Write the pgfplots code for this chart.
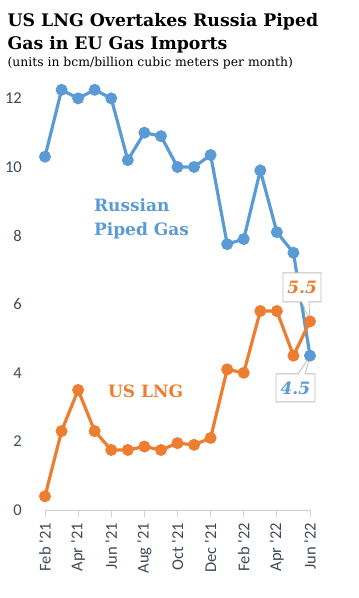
\documentclass[border=0pt]{standalone}
\usepackage{pgfplots}
\pgfplotsset{compat=1.18}
\usepackage{pgfplotstable}
\usepackage{fontspec}
\setmainfont{DejaVu Serif}
\newfontfamily\tickfont{Carlito}
\usetikzlibrary{shapes.callouts}
\definecolor{rblue}{HTML}{5B9BD5}
\definecolor{lorange}{HTML}{ED7D31}
\definecolor{tickgray}{HTML}{404A56}
\definecolor{axgray}{HTML}{D0D0D0}
\definecolor{boxgray}{HTML}{BFBFBF}

\pgfplotstableread{
x y
0 10.3
1 12.25
2 12.0
3 12.25
4 12.0
5 10.2
6 11.0
7 10.9
8 10.0
9 10.0
10 10.35
11 7.75
12 7.9
13 9.9
14 8.1
15 7.5
16 4.5
}\russia
\pgfplotstableread{
x y
0 0.4
1 2.3
2 3.5
3 2.3
4 1.75
5 1.75
6 1.85
7 1.75
8 1.95
9 1.9
10 2.1
11 4.1
12 4.0
13 5.8
14 5.8
15 4.5
16 5.5
}\uslng

\begin{document}
\begin{tikzpicture}
\useasboundingbox (-45pt,-88pt) rectangle (314pt,510pt);
\begin{axis}[
  at={(0,0)}, anchor=south west,
  scale only axis, width=265pt, height=428.75pt,
  xmin=0, xmax=16, ymin=0, ymax=12.5,
  clip=false,
  axis x line*=bottom, axis y line*=left,
  x axis line style={draw=axgray, line width=0.8pt},
  y axis line style={draw=none},
  xtick={0,2,...,16},
  xticklabels={Feb '21, Apr '21, Jun '21, Aug '21, Oct '21, Dec '21, Feb '22, Apr '22, Jun '22},
  ytick={0,2,...,12},
  x tick style={draw=axgray, line width=0.8pt},
  y tick style={draw=none},
  tick align=outside,
  major tick length=7pt,
  /pgf/number format/assume math mode=true,
  ticklabel style={font=\fontsize{16.5}{17}\tickfont, text=tickgray},
  xticklabel style={rotate=90, anchor=east, inner sep=0pt, xshift=-6pt, yshift=0pt},
  yticklabel style={anchor=east, inner sep=0pt, xshift=-16pt},
]
\addplot[color=rblue, line width=3.2pt, mark=*, mark size=4.3pt] table {\russia};
\addplot[color=lorange, line width=3.2pt, mark=*, mark size=4.3pt] table {\uslng};

\node[anchor=base west, align=left, text=rblue, font=\bfseries\fontsize{17}{24}\selectfont] at (axis cs:2.75,8.0) {Russian\\Piped Gas};
\node[anchor=base west, text=lorange, font=\bfseries\fontsize{17}{24}\selectfont] at (axis cs:3.6,3.29) {US LNG};

\node[rectangle callout, draw=boxgray, fill=white, line width=0.8pt, minimum width=38pt, minimum height=29pt, inner sep=0pt,
  callout absolute pointer={(axis cs:16,5.5)}, text=lorange, font=\bfseries\itshape\fontsize{17}{20}\selectfont] at (axis cs:15.52,6.49) {5.5};
\node[rectangle callout, draw=boxgray, fill=white, line width=0.8pt, minimum width=39pt, minimum height=28pt, inner sep=0pt,
  callout absolute pointer={(axis cs:16,4.5)}, text=rblue, font=\bfseries\itshape\fontsize{17}{20}\selectfont] at (axis cs:15.12,3.56) {4.5};
\end{axis}
\node[anchor=base west, font=\bfseries\fontsize{17.3}{20}\selectfont] at (-41pt,483pt) {US LNG Overtakes Russia Piped};
\node[anchor=base west, font=\bfseries\fontsize{17.3}{20}\selectfont] at (-41pt,460pt) {Gas in EU Gas Imports};
\node[anchor=base west, font=\fontsize{12.4}{14}\selectfont] at (-41pt,443pt) {(units in bcm/billion cubic meters per month)};
\end{tikzpicture}
\end{document}
